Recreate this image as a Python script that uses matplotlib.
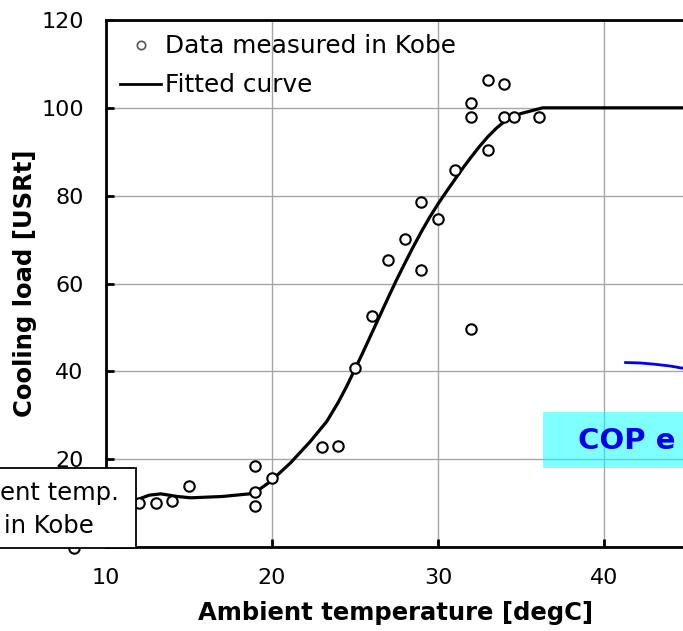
import numpy as np
import matplotlib
matplotlib.use("Agg")
import matplotlib.pyplot as plt
from matplotlib.lines import Line2D
from matplotlib.patches import Rectangle

# measured points (ambient temp degC, cooling load USRt)
meas_temp = [8.1, 12.0, 13.0, 14.0, 15.0, 19.0, 19.0, 19.0, 20.0, 23.0, 24.0,
             25.0, 26.0, 27.0, 28.0, 29.0, 29.0, 30.0, 31.0, 32.0, 32.0, 32.0,
             33.0, 33.0, 34.0, 34.0, 34.6, 36.1]
meas_load = [-0.3, 10.0, 10.0, 10.5, 13.9, 18.5, 12.5, 9.4, 15.7, 22.7, 23.1,
             40.7, 52.7, 65.3, 70.2, 63.1, 78.6, 74.6, 85.8, 49.7, 98.0, 101.2,
             90.5, 106.3, 105.4, 98.0, 98.0, 98.0]

# fitted curve
fit_temp = [10.0, 11.0, 11.9, 12.6, 13.3, 14.3, 15.1, 17.0, 18.9, 19.9, 21.1,
            22.3, 23.3, 24.0, 24.5, 25.0, 25.5, 26.0, 26.5, 27.0, 27.5, 28.0,
            28.5, 29.0, 29.5, 30.0, 30.5, 31.0, 31.5, 32.0, 32.5, 33.0, 33.5,
            34.0, 34.5, 35.0, 35.6, 36.3, 50.0]
fit_load = [9.6, 10.0, 10.8, 11.8, 12.1, 11.5, 11.2, 11.5, 12.2, 14.9, 19.1,
            24.0, 28.6, 33.0, 36.6, 40.5, 44.5, 48.6, 52.7, 56.8, 60.8, 64.6,
            68.3, 71.8, 75.1, 78.1, 80.9, 83.6, 86.3, 88.8, 91.2, 93.4, 95.3,
            96.9, 98.0, 98.7, 99.3, 100.0, 100.0]

# stray blue curve from the neighbouring chart
cop_temp = [41.3, 42.2, 43.1, 44.0, 44.9]
cop_load = [42.0, 41.9, 41.6, 41.2, 40.6]

plt.rcParams['font.family'] = ['DejaVu Sans']

fig = plt.figure(figsize=(6.83, 6.31), dpi=100)
W, H = 683, 631
ax = fig.add_axes([106 / W, (H - 547) / H, 664 / W, 527 / H])

ax.grid(True, color='#a6a6a6', linewidth=1.0)
ax.set_axisbelow(True)

ax.plot(fit_temp, fit_load, color='black', linewidth=2.3, zorder=3)
ax.plot(meas_temp, meas_load, linestyle='none', marker='o', markersize=7.5,
        markerfacecolor='white', markeredgecolor='black', markeredgewidth=1.5,
        zorder=4, clip_on=False)
ax.plot(cop_temp, cop_load, color='#0000ee', linewidth=2, zorder=3)

ax.set_xlim(10, 50)
ax.set_ylim(0, 120)
ax.set_xticks([10, 20, 30, 40])
ax.set_yticks([0, 20, 40, 60, 80, 100, 120])
ax.tick_params(direction='in', length=6, width=2, labelsize=16, color='black')
ax.tick_params(axis='x', pad=15)
ax.tick_params(axis='y', pad=16)
ax.yaxis.get_major_ticks()[0].label1.set_visible(False)
for s in ax.spines.values():
    s.set_linewidth(2)
    s.set_color('black')

ax.set_xlabel('Ambient temperature [degC]', fontsize=17.5, fontweight='bold')
ax.xaxis.set_label_coords((396 - 106) / 664, -0.103)
ax.set_ylabel('Cooling load [USRt]', fontsize=17.5, fontweight='bold')
ax.yaxis.set_label_coords(-(106 - 37) / 664, 0.5)

handles = [
    Line2D([], [], linestyle='none', marker='o', markersize=6,
           markerfacecolor='white', markeredgecolor='#555555', markeredgewidth=1.2),
    Line2D([], [], color='black', linewidth=2),
]
ax.legend(handles, ['Data measured in Kobe', 'Fitted curve'], loc='upper left',
          bbox_to_anchor=(0.0, 1.0), frameon=False, fontsize=17.8,
          handlelength=1.64, handletextpad=0.18, labelspacing=0.6,
          borderaxespad=0.28, borderpad=0.3)

# cyan label box on the right
cop_box = Rectangle((543 / W, (H - 468) / H), 160 / W, 56 / H,
                    transform=fig.transFigure, facecolor='cyan', alpha=0.5,
                    edgecolor='none', zorder=5)
fig.patches.append(cop_box)
fig.text(578 / W, (H - 441) / H, 'COP e', fontsize=21, fontweight='bold',
         color='#0000ee', va='center', ha='left', zorder=6)

# white note box at lower left
note_box = Rectangle((-5 / W, (H - 548) / H), 141 / W, 80 / H,
                     transform=fig.transFigure, facecolor='white',
                     edgecolor='black', linewidth=1.3, zorder=5)
fig.patches.append(note_box)
fig.text(0 / W, (H - 493) / H, 'ent temp.', fontsize=17.5, va='center',
         ha='left', zorder=6)
fig.text(4 / W, (H - 526) / H, 'in Kobe', fontsize=17.5, va='center',
         ha='left', zorder=6)

fig.savefig('out.png', dpi=100)
